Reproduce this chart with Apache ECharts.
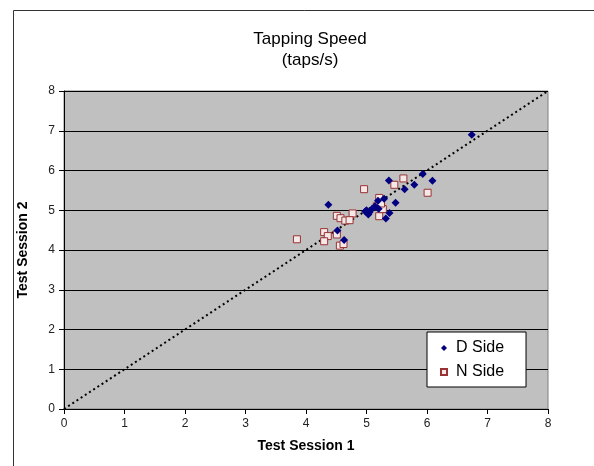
<!DOCTYPE html>
<html>
<head>
<meta charset="utf-8">
<script src="https://cdn.jsdelivr.net/npm/echarts@6/dist/echarts.min.js"></script>
<style>
  html, body { margin: 0; padding: 0; background: #fff; }
  #chart { width: 594px; height: 466px; }
</style>
</head>
<body>
<div id="chart"></div>
<script>
// session 1 / session 2 tapping speed (taps/s)
const dSide = [
  [6.74, 6.90], [5.93, 5.91], [6.09, 5.74], [5.79, 5.64], [5.63, 5.53],
  [5.37, 5.75], [5.48, 5.19], [4.37, 5.14], [5.29, 5.29], [5.19, 5.24],
  [4.98, 4.97], [5.03, 4.89], [5.09, 5.03], [5.05, 4.95], [5.00, 5.00],
  [5.38, 4.93], [5.32, 4.79], [4.52, 4.49], [4.63, 4.25], [5.20, 5.04],
  [5.14, 5.10]
]
const nSide = [
  [5.61, 5.80], [5.46, 5.64], [6.01, 5.44], [4.96, 5.53], [5.21, 5.31],
  [5.17, 5.10], [5.27, 5.03], [5.21, 4.85], [4.77, 4.92], [4.51, 4.86],
  [4.57, 4.80], [4.65, 4.74], [4.72, 4.75], [4.30, 4.45], [4.36, 4.35],
  [4.51, 4.39], [4.30, 4.22], [4.56, 4.11], [4.62, 4.15], [3.85, 4.27],
  [5.24, 5.17]
]
const identityLine = [[0, 0], [8, 8]]
const axisTicks = [0, 1, 2, 3, 4, 5, 6, 7, 8]

const font = 'Liberation Sans, Arial, sans-serif'
const chart = echarts.init(document.getElementById('chart'))
chart.setOption({
  backgroundColor: '#fff',
  animation: false,
  graphic: [{
    type: 'rect',
    shape: { x: 13.5, y: 10.5, width: 620, height: 500 },
    style: { fill: 'none', stroke: '#333', lineWidth: 1 },
    z: -1
  }],
  title: {
    text: 'Tapping Speed\n(taps/s)',
    left: 305,
    textAlign: 'center',
    top: 24,
    textStyle: { fontFamily: font, fontSize: 17, fontWeight: 'normal', color: '#000', lineHeight: 21 }
  },
  legend: {
    data: ['D Side', 'N Side'],
    orient: 'vertical',
    left: 427,
    top: 332,
    padding: [8, 22, 7, 13],
    itemGap: 8,
    itemWidth: 6,
    itemHeight: 6,
    backgroundColor: '#fff',
    borderColor: '#000',
    borderWidth: 1,
    borderRadius: 0,
    textStyle: { fontFamily: font, fontSize: 16, color: '#000', padding: [0, 0, 0, 4] }
  },
  grid: {
    left: 64, right: 46, top: 91, bottom: 57,
    show: true,
    backgroundColor: '#c0c0c0',
    borderColor: '#808080',
    borderWidth: 1
  },
  xAxis: {
    type: 'value', min: 0, max: 8, interval: 1,
    name: 'Test Session 1',
    nameLocation: 'middle',
    nameGap: 30,
    nameTextStyle: { fontFamily: font, fontSize: 14, fontWeight: 'bold', color: '#000' },
    axisLine: { onZero: false, lineStyle: { color: '#000' } },
    axisTick: { show: true, length: 5, lineStyle: { color: '#000' } },
    axisLabel: { fontFamily: font, fontSize: 12, color: '#222', margin: 9,
      formatter: v => axisTicks.includes(v) ? String(v) : '' },
    splitLine: { show: false }
  },
  yAxis: {
    type: 'value', min: 0, max: 8, interval: 1,
    name: 'Test Session 2',
    nameLocation: 'middle',
    nameGap: 34,
    nameTextStyle: { fontFamily: font, fontSize: 14, fontWeight: 'bold', color: '#000' },
    axisLine: { show: true, onZero: false, lineStyle: { color: '#000' } },
    axisTick: { show: true, length: 5, lineStyle: { color: '#000' } },
    axisLabel: { fontFamily: font, fontSize: 12, color: '#222', margin: 9,
      formatter: v => axisTicks.includes(v) ? String(v) : '' },
    splitLine: { show: true, lineStyle: { color: '#000', width: 1 } }
  },
  series: [
    {
      name: 'identity',
      type: 'line',
      data: identityLine,
      symbol: 'none',
      silent: true,
      lineStyle: { color: '#000', type: [2, 3], width: 2 },
      z: 1
    },
    {
      name: 'D Side',
      type: 'scatter',
      data: dSide,
      symbol: 'diamond',
      symbolSize: 8,
      itemStyle: { color: '#000080', opacity: 1 },
      z: 3
    },
    {
      name: 'N Side',
      type: 'scatter',
      data: nSide,
      symbol: 'rect',
      symbolSize: 7,
      itemStyle: { color: '#f4e8e8', borderColor: '#993333', borderWidth: 1, opacity: 1 },
      z: 2
    }
  ]
})
</script>
</body>
</html>
